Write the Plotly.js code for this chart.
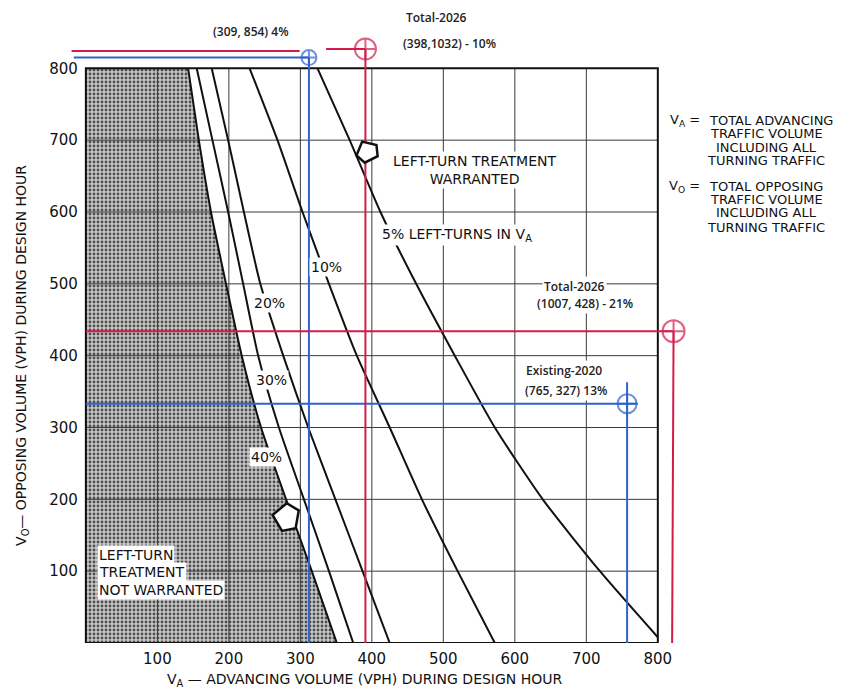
<!DOCTYPE html>
<html><head><meta charset="utf-8">
<script src="https://cdn.plot.ly/plotly-3.0.1.min.js"></script>
<style>html,body{margin:0;padding:0;background:#fff}#chart{width:853px;height:689px}</style>
</head><body><div id="chart"></div>
<script>
// ---- chart data ----
const levelsY  = [800, 700, 600, 500, 400, 300, 200, 100, 0];
const curve5Y  = [800, 700, 600, 500, 400, 300, 200, 100, 8];
const curve5X  = [324, 369, 412, 462, 516, 572, 639, 719, 800];
const curve10X = [229, 268, 303, 340, 379, 425, 470, 520, 572];
const curve20X = [176, 199, 221, 244, 276, 311, 349, 387, 425];
const curve30X = [155, 177, 199, 220, 241, 270, 305, 340, 374];
const curve40X = [143, 158, 175, 196, 218, 245, 280, 316, 351];
const gridVals = [100, 200, 300, 400, 500, 600, 700];
const tickVals = [100, 200, 300, 400, 500, 600, 700, 800];

const curveLabels = ['5% LEFT-TURNS IN V<sub>A</sub>', '10%', '20%', '30%', '40%'];
const curveLabelX = [411, 337, 257, 260, 253];
const curveLabelY = [568, 523, 473, 366, 259];

// study points as drawn on the chart
const existH_X = [0, 772],   existH_Y = [333, 333];
const existV_X = [757, 757], existV_Y = [363, 0];
const totalH_X = [0, 822],   totalH_Y = [434, 434];
const totalV_X = [822, 820], totalV_Y = [434, 0];
const topBlueH_X = [-17, 312], topBlueH_Y = [815, 815];
const topBlueV_X = [312, 312], topBlueV_Y = [815, 0];
const topRedH_X = [-20, 299, null, 336, 391], topRedH_Y = [824, 824, null, 827, 827];
const topRedV_X = [391, 391], topRedV_Y = [827, 0];
const blueMarkX = [757, 312], blueMarkY = [333, 815];
const redMarkX  = [822, 391], redMarkY  = [434, 827];

const pointLabels = ['(309, 854) 4%', 'Total-2026', '(398,1032) - 10%', 'Total-2026', '(1007, 428) - 21%', 'Existing-2020', '(765, 327) 13%'];
const pointLabelX = [231, 491, 508, 683, 698, 669, 672];
const pointLabelY = [851, 871, 835, 496, 473, 380, 352];

// direction arrows (anchor point and pointing angle, degrees)
const arrowX = [393, 279], arrowY = [685, 175], arrowAngle = [117, 170];

const legendLines = ['TOTAL ADVANCING', 'TRAFFIC VOLUME', 'INCLUDING ALL', 'TURNING TRAFFIC',
                     'TOTAL OPPOSING', 'TRAFFIC VOLUME', 'INCLUDING ALL', 'TURNING TRAFFIC'];
const legendY = [728, 709, 690, 672, 636, 617, 599, 579];
const legendSymbols = ['V<sub>A</sub> =', 'V<sub>O</sub> ='];

// ---- build ----
const BLUE = '#2e63c9', RED = '#d21d4c';
const FONT = 'DejaVu Sans';
const xr = [-25, 845], yr = [0, 845];
const toPX = X => (X - xr[0]) / (xr[1] - xr[0]);
const toPY = Y => (Y - yr[0]) / (yr[1] - yr[0]);
const fMax = tickVals[tickVals.length - 1];
const traces = [];

traces.push({type: 'scatter', mode: 'lines', x: curve40X, y: levelsY,
  fill: 'tozerox', fillcolor: '#b0b0b0',
  fillpattern: {shape: '.', bgcolor: '#c8c8c8', fgcolor: '#4d4d4d', size: 4, solidity: 0.4},
  line: {width: 0, shape: 'spline', smoothing: 0.6}, hoverinfo: 'skip'});

const gx = [], gy = [];
gridVals.forEach(v => { gx.push(v, v, null, 0, fMax, null); gy.push(0, fMax, null, v, v, null); });
traces.push({type: 'scatter', mode: 'lines', x: gx, y: gy, line: {color: '#3a3a3a', width: 1}, hoverinfo: 'skip'});

[[curve5X, curve5Y], [curve10X, levelsY], [curve20X, levelsY], [curve30X, levelsY], [curve40X, levelsY]].forEach(c => {
  traces.push({type: 'scatter', mode: 'lines', x: c[0], y: c[1], line: {color: '#111', width: 2, shape: 'spline', smoothing: 0.6}, hoverinfo: 'skip'});
});

traces.push({type: 'scatter', mode: 'lines', x: [0, fMax, fMax, 0, 0], y: [0, 0, fMax, fMax, 0], line: {color: '#111', width: 2}, hoverinfo: 'skip'});

[[existH_X, existH_Y, BLUE], [existV_X, existV_Y, BLUE], [topBlueH_X, topBlueH_Y, BLUE], [topBlueV_X, topBlueV_Y, BLUE],
 [totalH_X, totalH_Y, RED], [totalV_X, totalV_Y, RED], [topRedH_X, topRedH_Y, RED], [topRedV_X, topRedV_Y, RED]].forEach(l => {
  traces.push({type: 'scatter', mode: 'lines', x: l[0], y: l[1], line: {color: l[2], width: 2}, hoverinfo: 'skip'});
});
traces.push({type: 'scatter', mode: 'markers', x: blueMarkX, y: blueMarkY,
  marker: {symbol: 'circle-cross-open', size: [19, 15], color: BLUE, line: {width: 2, color: BLUE}}, hoverinfo: 'skip'});
traces.push({type: 'scatter', mode: 'markers', x: redMarkX, y: redMarkY,
  marker: {symbol: 'circle-cross-open', size: [22, 21], color: RED, line: {width: 2, color: RED}}, hoverinfo: 'skip'});

// hollow pentagon arrows, pixel-sized around a data anchor
const pentScale = [0.8, 1.0];
const basePent = [[-13, 0], [-1, 14], [12, 9], [12, -9], [-1, -14]]; // tip pointing left (180deg)
const shapes = arrowX.map((ax, i) => {
  const r = (arrowAngle[i] - 180) * Math.PI / 180, c = Math.cos(r), s = Math.sin(r), k = pentScale[i];
  const pts = basePent.map(p => [(k * (p[0] * c - p[1] * s)).toFixed(1), (k * (p[0] * s + p[1] * c)).toFixed(1)]);
  return {type: 'path', xref: 'x', yref: 'y', xsizemode: 'pixel', ysizemode: 'pixel', xanchor: ax, yanchor: arrowY[i],
    path: 'M' + pts.map(p => p[0] + ',' + p[1]).join('L') + 'Z', fillcolor: 'white', line: {color: '#111', width: 2.5}, layer: 'above'};
});

const ann = [];
curveLabels.forEach((t, i) => ann.push({x: curveLabelX[i], y: curveLabelY[i], text: t, showarrow: false,
  xanchor: i === 0 ? 'left' : 'center', bgcolor: 'white', borderpad: 1, font: {family: FONT, size: 14, color: '#111'}}));
ann.push({x: 544, y: 659, text: 'LEFT-TURN TREATMENT<br>WARRANTED', showarrow: false, align: 'center',
  bgcolor: 'white', font: {family: FONT, size: 14, color: '#111'}});
['LEFT-TURN', 'TREATMENT', 'NOT WARRANTED'].forEach((t, i) => ann.push({x: 15, y: [122, 99, 74][i], text: t,
  showarrow: false, xanchor: 'left', bgcolor: 'white', borderpad: 1, font: {family: FONT, size: 14, color: '#111'}}));

// texts placed outside the axis ranges go through paper coordinates derived from the same scale
pointLabels.forEach((t, i) => ann.push({xref: 'paper', yref: 'paper', x: toPX(pointLabelX[i]), y: toPY(pointLabelY[i]),
  xanchor: 'center', yanchor: 'middle', text: t, showarrow: false,
  bgcolor: i >= 3 ? 'white' : 'rgba(0,0,0,0)', borderpad: 1, font: {family: 'Open Sans', size: 12, color: '#222', weight: 600}}));

legendLines.forEach((t, i) => ann.push({xref: 'paper', yref: 'paper', x: toPX(i === 0 ? 958 : 952), y: toPY(legendY[i]),
  text: t, showarrow: false, xanchor: 'center', yanchor: 'middle', borderpad: 0, font: {family: FONT, size: 13, color: '#111'}}));
legendSymbols.forEach((t, i) => ann.push({xref: 'paper', yref: 'paper', x: toPX(861), y: toPY(legendY[i * 4]),
  text: t, showarrow: false, xanchor: 'right', yanchor: 'middle', borderpad: 0, font: {family: FONT, size: 13, color: '#111'}}));

ann.push({xref: 'paper', yref: 'paper', x: 0.4775, y: -0.061, xanchor: 'center', yanchor: 'middle',
  text: 'V<sub>A</sub> \u2014 ADVANCING VOLUME (VPH) DURING DESIGN HOUR',
  showarrow: false, font: {family: FONT, size: 14, color: '#111'}});
ann.push({xref: 'paper', yref: 'paper', x: -0.074, y: 0.4745, xanchor: 'center', yanchor: 'middle',
  text: 'V<sub>O</sub>\u2014 OPPOSING VOLUME (VPH) DURING DESIGN HOUR',
  showarrow: false, textangle: -90, font: {family: FONT, size: 14, color: '#111'}});

const layout = {
  width: 853, height: 689, margin: {l: 68, r: 163, t: 36, b: 46},
  paper_bgcolor: 'white', plot_bgcolor: 'white', showlegend: false,
  xaxis: {range: xr, tickvals: tickVals, ticks: '', showgrid: false, zeroline: false, showline: false,
          ticklabelstandoff: 5, tickfont: {family: FONT, size: 15, color: '#111'}, fixedrange: true},
  yaxis: {range: yr, tickvals: tickVals, ticks: '', showgrid: false, zeroline: false, showline: false,
          anchor: 'free', position: (0 - xr[0]) / (xr[1] - xr[0]),
          ticklabelstandoff: 8, tickfont: {family: FONT, size: 15, color: '#111'}, fixedrange: true},
  shapes: shapes,
  annotations: ann
};
Plotly.newPlot('chart', traces, layout, {displayModeBar: false, staticPlot: true});
</script>
</body></html>
